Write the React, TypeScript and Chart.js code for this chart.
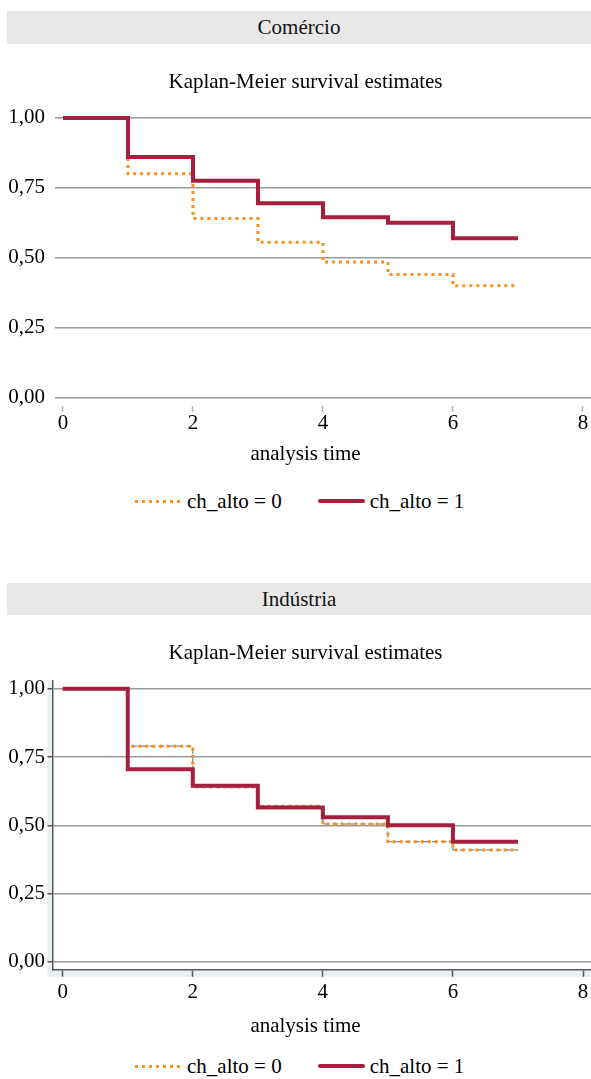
import React, { useEffect, useRef } from 'react';
import { Chart, registerables } from 'chart.js';

Chart.register(...registerables);

// ---- data ----
const times = [0, 1, 2, 3, 4, 5, 6, 7];
const comercioAlto0 = [1, 0.8, 0.64, 0.555, 0.485, 0.44, 0.4, 0.4];
const comercioAlto1 = [1, 0.86, 0.775, 0.695, 0.645, 0.625, 0.57, 0.57];
const industriaAlto0 = [1, 0.79, 0.64, 0.57, 0.505, 0.44, 0.41, 0.41];
const industriaAlto1 = [1, 0.705, 0.645, 0.565, 0.53, 0.5, 0.44, 0.44];

const xTickValues = [0, 2, 4, 6, 8];
const xTickLabels = ['0', '2', '4', '6', '8'];
const yTickValues = [0, 0.25, 0.5, 0.75, 1];
const yTickLabels = ['0,00', '0,25', '0,50', '0,75', '1,00'];
const seriesLabels = ['ch_alto = 0', 'ch_alto = 1'];
const panelTitles = ['Comércio', 'Indústria'];
const chartTitle = 'Kaplan-Meier survival estimates';
const xAxisTitle = 'analysis time';

// ---- styles ----
const FONT = "'Liberation Serif', 'Times New Roman', Tinos, serif";
const ORANGE = '#f8901f';
const RED = '#a51f3f';
const BLUE = '#4a6f8f';
const GRID = '#9a9a9a';
const AXIS = '#5a5a5a';
const CANVAS_W = 611;

const toPoints = (vals: number[]) => times.map((t, i) => ({ x: t, y: vals[i] }));

const stripPlugin = {
  id: 'axisStrip',
  beforeDraw(chart: any) {
    const a = chart.chartArea;
    const ctx = chart.ctx;
    ctx.save();
    ctx.fillStyle = '#e8f0f1';
    ctx.fillRect(a.left - 5, a.top, 5, a.bottom - a.top + 7);
    ctx.fillRect(a.left - 5, a.bottom, a.right - a.left + 5, 7);
    ctx.restore();
  },
};

type PanelProps = {
  alto0: number[];
  alto1: number[];
  framed: boolean;
  top: number;
  height: number;
  yWidth: number;
  xMin: number;
  xMax: number;
  yMin: number;
  yMax: number;
  xTickLen: number;
  xTickPad: number;
  xTitlePad: number;
  yTickPad: number;
};

function KMPanel(p: PanelProps) {
  const ref = useRef<HTMLCanvasElement | null>(null);
  useEffect(() => {
    if (!ref.current) return;
    const datasets: any[] = [
      {
        label: seriesLabels[0],
        data: toPoints(p.alto0),
        borderColor: ORANGE,
        backgroundColor: ORANGE,
        borderWidth: 3,
        borderDash: [3, 4],
        borderCapStyle: 'butt',
        stepped: 'before',
        pointRadius: 0,
        fill: false,
        order: 2,
      },
      {
        label: seriesLabels[1],
        data: toPoints(p.alto1),
        borderColor: RED,
        backgroundColor: RED,
        borderWidth: 4,
        stepped: 'before',
        pointRadius: 0,
        fill: false,
        order: 1,
      },
    ];
    if (p.framed) {
      datasets.push({
        label: 'ref',
        data: toPoints(p.alto0),
        borderColor: BLUE,
        borderWidth: 1,
        borderDash: [6, 3],
        stepped: 'before',
        pointRadius: 0,
        fill: false,
        order: 3,
      });
    }
    const tickFont = { family: FONT, size: 21, weight: 'normal' as const, lineHeight: 1 };
    const textFont = { family: FONT, size: 21, weight: 'normal' as const, lineHeight: 1.2 };
    const chart = new Chart(ref.current, {
      type: 'line',
      data: { datasets },
      plugins: p.framed ? [stripPlugin] : [],
      options: {
        responsive: false,
        animation: false,
        devicePixelRatio: 1,
        layout: { padding: 0 },
        plugins: {
          legend: { display: false },
          tooltip: { enabled: false },
          title: {
            display: true,
            text: chartTitle,
            color: '#000',
            font: textFont,
            padding: { top: 21.4, bottom: 15 },
          },
          subtitle: {
            display: true,
            position: 'bottom',
            text: xAxisTitle,
            color: '#000',
            font: textFont,
            padding: { top: p.xTitlePad, bottom: 0 },
          },
        },
        scales: {
          x: {
            type: 'linear',
            min: p.xMin,
            max: p.xMax,
            afterBuildTicks: (s: any) => {
              s.ticks = xTickValues.map((v) => ({ value: v }));
            },
            afterFit: (s: any) => {
              s.paddingLeft = 0;
              s.paddingRight = 0;
            },
            ticks: {
              color: '#000',
              font: tickFont,
              padding: p.xTickPad,
              maxRotation: 0,
              autoSkip: false,
              callback: (_v: any, i: number) => xTickLabels[i],
            },
            grid: {
              drawOnChartArea: false,
              drawTicks: true,
              tickLength: p.xTickLen,
              tickColor: p.framed ? AXIS : '#b4b4b4',
              tickWidth: 1.5,
              color: p.framed ? AXIS : '#b4b4b4',
            },
            border: { display: p.framed, color: AXIS, width: 1.5 },
          },
          y: {
            type: 'linear',
            min: p.yMin,
            max: p.yMax,
            afterBuildTicks: (s: any) => {
              s.ticks = yTickValues.map((v) => ({ value: v }));
            },
            afterFit: (s: any) => {
              s.width = p.yWidth;
              s.paddingTop = 0;
              s.paddingBottom = 0;
            },
            ticks: {
              color: '#000',
              font: tickFont,
              padding: p.yTickPad,
              autoSkip: false,
              callback: (_v: any, i: number) => yTickLabels[i],
            },
            grid: {
              color: GRID,
              lineWidth: 1.5,
              drawTicks: p.framed,
              tickLength: 5,
              tickColor: AXIS,
              tickWidth: 1.5,
            },
            border: { display: p.framed, color: AXIS, width: 1.5 },
          },
        },
      } as any,
    });
    return () => chart.destroy();
  }, []);
  return (
    <canvas
      ref={ref}
      width={CANVAS_W}
      height={p.height}
      style={{ position: 'absolute', left: 0, top: p.top, width: CANVAS_W, height: p.height, display: 'block' }}
    />
  );
}

function Band({ top, height, text }: { top: number; height: number; text: string }) {
  return (
    <div
      style={{
        position: 'absolute',
        left: 7,
        top,
        width: 584,
        height,
        background: '#e8e8e8',
        color: '#111',
        fontFamily: FONT,
        fontSize: 21,
        lineHeight: `${height}px`,
        textAlign: 'center',
      }}
    >
      {text}
    </div>
  );
}

function Legend({ centerY }: { centerY: number }) {
  const item = (i: number) => (
    <div style={{ display: 'flex', alignItems: 'center', marginLeft: i === 0 ? 0 : 36 }}>
      <span
        style={{
          display: 'inline-block',
          width: 47,
          height: i === 0 ? 3 : 4,
          background:
            i === 0
              ? `repeating-linear-gradient(90deg, ${ORANGE} 0 3px, transparent 3px 7px)`
              : RED,
          borderRadius: i === 0 ? 0 : 2,
        }}
      />
      <span style={{ marginLeft: 5, whiteSpace: 'pre' }}>{seriesLabels[i]}</span>
    </div>
  );
  return (
    <div
      style={{
        position: 'absolute',
        left: 135,
        top: centerY - 13,
        height: 26,
        display: 'flex',
        alignItems: 'center',
        fontFamily: FONT,
        fontSize: 21,
        lineHeight: '26px',
        color: '#000',
      }}
    >
      {item(0)}
      {item(1)}
    </div>
  );
}

export default function App() {
  return (
    <div
      style={{
        position: 'absolute',
        left: 0,
        top: 0,
        width: 591,
        height: 1079,
        overflow: 'hidden',
        background: '#fff',
      }}
    >
      <Band top={11} height={33} text={panelTitles[0]} />
      <KMPanel
        alto0={comercioAlto0}
        alto1={comercioAlto1}
        framed={false}
        top={48}
        height={419}
        yWidth={55}
        xMin={-0.123}
        xMax={8.431}
        yMin={-0.03}
        yMax={1.03}
        xTickLen={6}
        xTickPad={1}
        xTitlePad={7}
        yTickPad={10}
      />
      <Legend centerY={501} />
      <Band top={583} height={32} text={panelTitles[1]} />
      <KMPanel
        alto0={industriaAlto0}
        alto1={industriaAlto1}
        framed={true}
        top={619}
        height={420}
        yWidth={52.5}
        xMin={-0.157}
        xMax={8.43}
        yMin={-0.0288}
        yMax={1.03}
        xTickLen={7}
        xTickPad={5}
        xTitlePad={6}
        yTickPad={2.5}
      />
      <Legend centerY={1066} />
    </div>
  );
}
